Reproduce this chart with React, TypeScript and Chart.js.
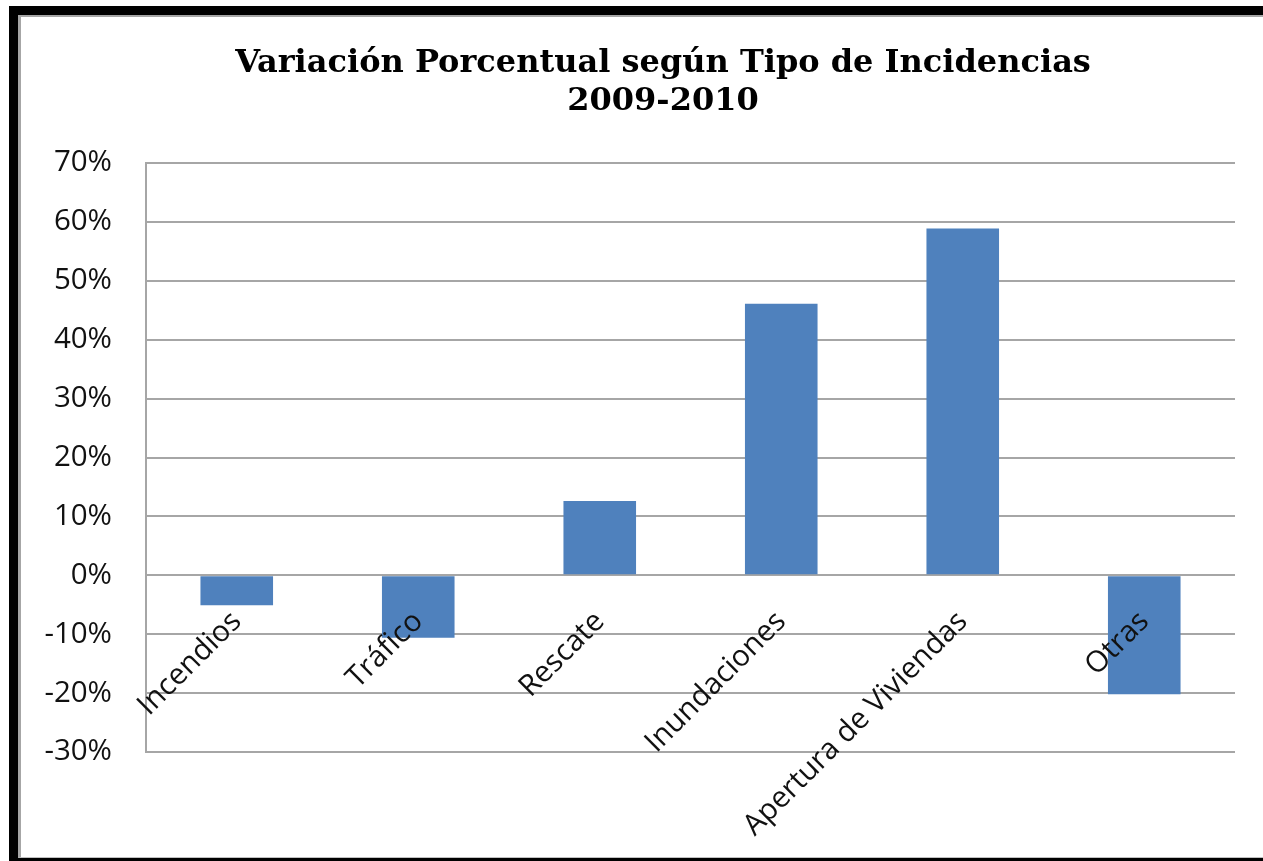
import React, { useEffect, useRef } from 'react';
import { Chart, registerables } from 'chart.js';

Chart.register(...registerables);

const categories = ['Incendios', 'Tráfico', 'Rescate', 'Inundaciones', 'Apertura de Viviendas', 'Otras'];
const variation = [-5.1, -10.6, 12.6, 46.1, 58.9, -20.2];
const yMin = -30;
const yMax = 70;
const yStep = 10;
const titleLines = ['Variación Porcentual según Tipo de Incidencias', '2009-2010'];

const TITLE_LEFT = 91;

const titleShift = {
  id: 'titleShift',
  afterLayout(chart: any) {
    const t = chart.titleBlock;
    if (t) {
      t.left = TITLE_LEFT;
      t.width = t.right - t.left;
    }
  },
};

export default function App() {
  const ref = useRef<HTMLCanvasElement>(null);

  useEffect(() => {
    const labelFont = { family: '"Open Sans", sans-serif', size: 29.5 };
    const chart = new Chart(ref.current as HTMLCanvasElement, {
      type: 'bar',
      data: {
        labels: categories,
        datasets: [
          {
            data: variation,
            backgroundColor: '#4F81BD',
            barPercentage: 0.4,
            categoryPercentage: 1,
          },
        ],
      },
      plugins: [titleShift],
      options: {
        animation: false,
        responsive: false,
        devicePixelRatio: 1,
        layout: { padding: { left: 20, right: 28, top: 0, bottom: 109 } },
        scales: {
          x: {
            axis: 'x',
            position: { y: 0 } as any,
            grid: { display: false, drawTicks: false },
            border: { display: false },
            ticks: {
              z: 5,
              minRotation: 45,
              maxRotation: 45,
              autoSkip: false,
              padding: 29,
              font: labelFont,
              color: '#111',
            },
          },
          y: {
            min: yMin,
            max: yMax,
            ticks: {
              stepSize: yStep,
              padding: 34,
              font: labelFont,
              color: '#111',
              callback: (v: any) => `${v}%`,
            },
            grid: { color: '#a6a6a6', lineWidth: 2, drawTicks: false },
            border: { color: '#a6a6a6', width: 2 },
            afterFit: (s: any) => {
              s.width = 126;
            },
          },
        },
        plugins: {
          legend: { display: false },
          tooltip: { enabled: false },
          title: {
            display: true,
            text: titleLines,
            color: '#000',
            font: { family: '"DejaVu Serif", serif', size: 32, weight: 'bold', lineHeight: '38px' as any },
            padding: { top: 45, bottom: 42 },
          },
        },
      },
    });
    return () => chart.destroy();
  }, []);

  return (
    <div style={{ position: 'fixed', left: 0, top: 0, width: 1263, height: 861, background: '#fff', overflow: 'hidden' }}>
      <div
        style={{
          position: 'absolute',
          left: 9,
          top: 6,
          width: 1254,
          height: 855,
          boxSizing: 'border-box',
          borderLeft: '9px solid #000',
          borderTop: '9px solid #000',
          borderBottom: '3px solid #000',
        }}
      />
      <div
        style={{
          position: 'absolute',
          left: 18,
          top: 15,
          width: 1245,
          height: 843,
          boxSizing: 'border-box',
          borderLeft: '3px solid #a6a6a6',
          borderTop: '2px solid #a6a6a6',
          borderBottom: '1px solid #c0c0c0',
        }}
      />
      <canvas ref={ref} width={1263} height={861} style={{ position: 'absolute', left: 0, top: 0 }} />
    </div>
  );
}
